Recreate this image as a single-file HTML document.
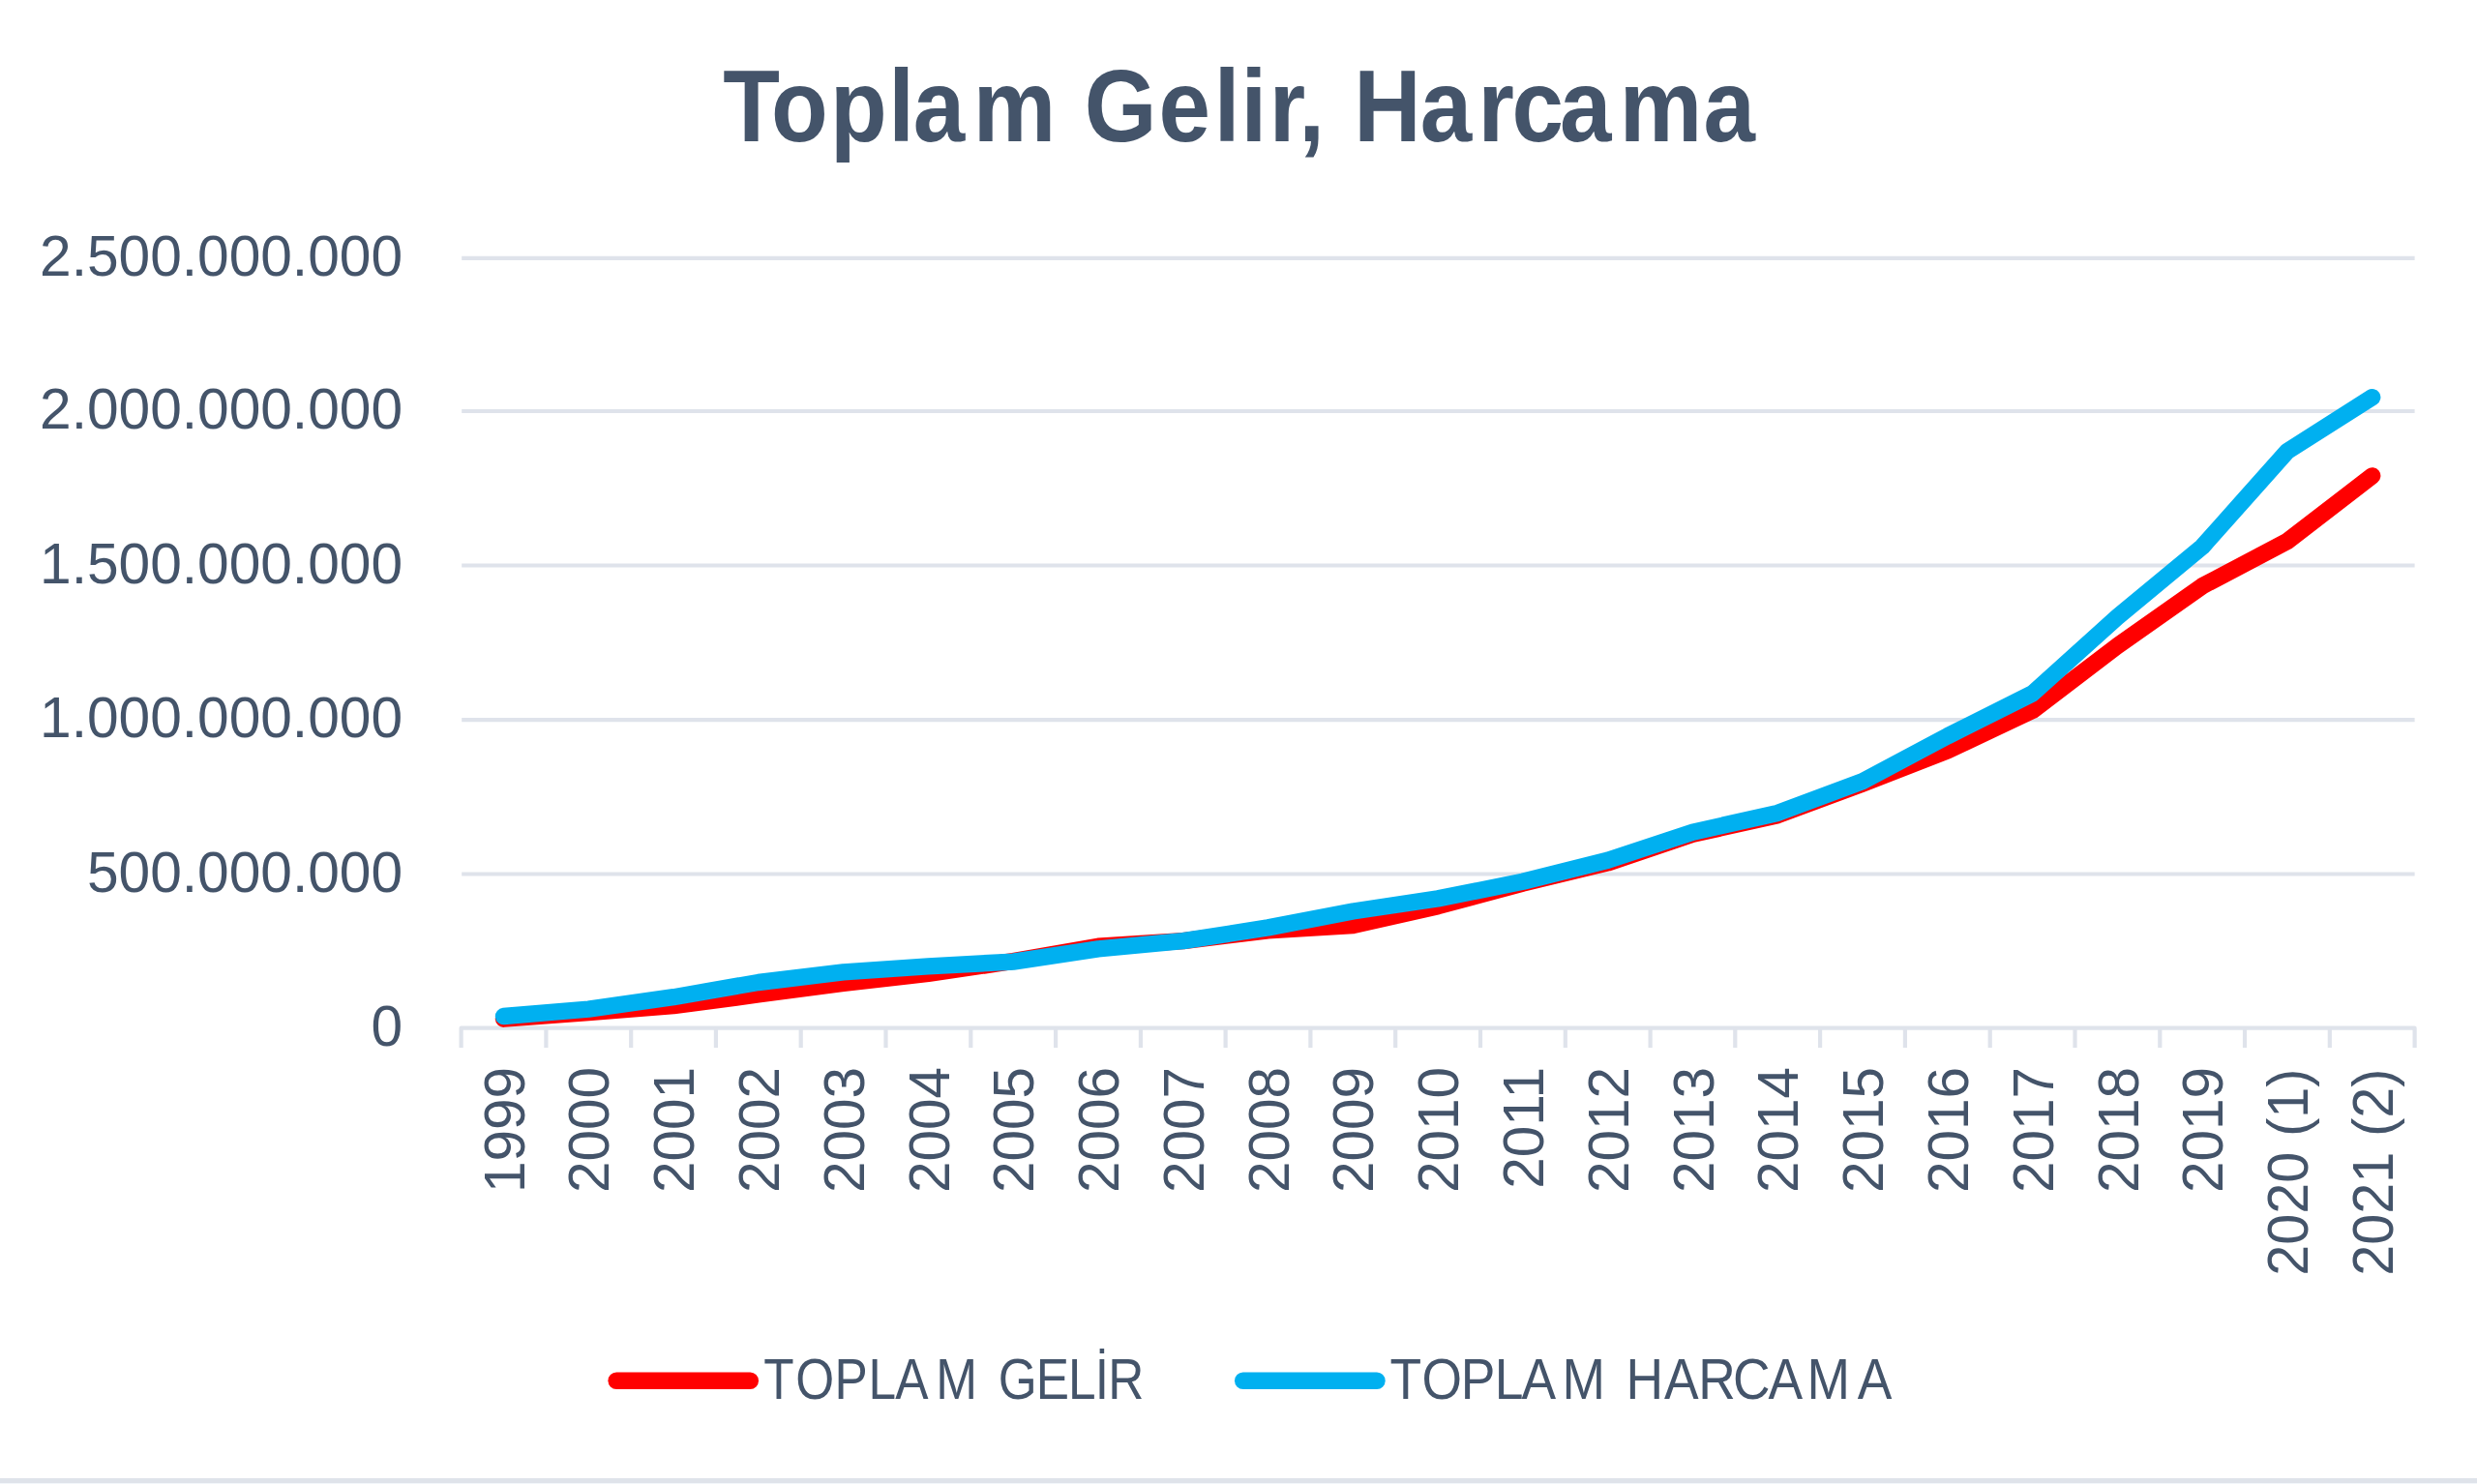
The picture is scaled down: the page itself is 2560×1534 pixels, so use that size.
<!DOCTYPE html>
<html lang="tr"><head><meta charset="utf-8"><title>Toplam Gelir, Harcama</title>
<style>
html,body{margin:0;padding:0;background:#fff;}
body{width:2560px;height:1534px;overflow:hidden;font-family:"Liberation Sans",sans-serif;}
svg{display:block;}
text{font-family:"Liberation Sans",sans-serif;fill:#44546A;}
</style></head><body>
<svg width="2560" height="1534" viewBox="0 0 2560 1534">
<rect x="0" y="0" width="2560" height="1534" fill="#ffffff"/>
<rect x="0" y="1528" width="2560" height="5" fill="#DFE3EA"/>
<rect x="0" y="1533" width="2560" height="1" fill="#F2F6FA"/>
<g stroke="#DFE3EB" stroke-width="4.2" fill="none" stroke-linejoin="round">
<line x1="477.2" y1="266.9" x2="2495.6" y2="266.9"/>
<line x1="477.2" y1="425.0" x2="2495.6" y2="425.0"/>
<line x1="477.2" y1="584.5" x2="2495.6" y2="584.5"/>
<line x1="477.2" y1="744.2" x2="2495.6" y2="744.2"/>
<line x1="477.2" y1="903.5" x2="2495.6" y2="903.5"/>
<path d="M476.6,1083.0 L476.6,1062.7 L2495.6,1062.7 L2495.6,1083.0"/>
<line x1="564.4" y1="1062.7" x2="564.4" y2="1083.0"/>
<line x1="652.2" y1="1062.7" x2="652.2" y2="1083.0"/>
<line x1="739.9" y1="1062.7" x2="739.9" y2="1083.0"/>
<line x1="827.7" y1="1062.7" x2="827.7" y2="1083.0"/>
<line x1="915.5" y1="1062.7" x2="915.5" y2="1083.0"/>
<line x1="1003.3" y1="1062.7" x2="1003.3" y2="1083.0"/>
<line x1="1091.1" y1="1062.7" x2="1091.1" y2="1083.0"/>
<line x1="1178.9" y1="1062.7" x2="1178.9" y2="1083.0"/>
<line x1="1266.6" y1="1062.7" x2="1266.6" y2="1083.0"/>
<line x1="1354.4" y1="1062.7" x2="1354.4" y2="1083.0"/>
<line x1="1442.2" y1="1062.7" x2="1442.2" y2="1083.0"/>
<line x1="1530.0" y1="1062.7" x2="1530.0" y2="1083.0"/>
<line x1="1617.8" y1="1062.7" x2="1617.8" y2="1083.0"/>
<line x1="1705.6" y1="1062.7" x2="1705.6" y2="1083.0"/>
<line x1="1793.3" y1="1062.7" x2="1793.3" y2="1083.0"/>
<line x1="1881.1" y1="1062.7" x2="1881.1" y2="1083.0"/>
<line x1="1968.9" y1="1062.7" x2="1968.9" y2="1083.0"/>
<line x1="2056.7" y1="1062.7" x2="2056.7" y2="1083.0"/>
<line x1="2144.5" y1="1062.7" x2="2144.5" y2="1083.0"/>
<line x1="2232.3" y1="1062.7" x2="2232.3" y2="1083.0"/>
<line x1="2320.0" y1="1062.7" x2="2320.0" y2="1083.0"/>
<line x1="2407.8" y1="1062.7" x2="2407.8" y2="1083.0"/>
</g>
<text transform="translate(0,146.3) scale(0.9114,1)" x="819.8 874.4 941.5 1007.5 1035.6 1103.6 1194.1 1229.6 1313.8 1376.8 1407.3 1439.4 1472.6 1499.7 1535.4 1610.4 1675.9 1714.4 1768.7 1836.5 1931.6" y="0" font-size="105.5" font-weight="700">Toplam Gelir, Harcama</text>
<text transform="translate(416.0,284.9) scale(0.9856,1)" text-anchor="end" font-size="59.5">2.500.000.000</text>
<text transform="translate(416.0,443.0) scale(0.9856,1)" text-anchor="end" font-size="59.5">2.000.000.000</text>
<text transform="translate(416.0,602.5) scale(0.9856,1)" text-anchor="end" font-size="59.5">1.500.000.000</text>
<text transform="translate(416.0,762.2) scale(0.9856,1)" text-anchor="end" font-size="59.5">1.000.000.000</text>
<text transform="translate(416.0,921.5) scale(0.9856,1)" text-anchor="end" font-size="59.5">500.000.000</text>
<text transform="translate(416.0,1080.7) scale(0.9856,1)" text-anchor="end" font-size="59.5">0</text>
<text transform="translate(541.6,1103.0) rotate(-90) scale(0.983,1)" text-anchor="end" font-size="59.5">1999</text>
<text transform="translate(629.4,1103.0) rotate(-90) scale(0.983,1)" text-anchor="end" font-size="59.5">2000</text>
<text transform="translate(717.2,1103.0) rotate(-90) scale(0.983,1)" text-anchor="end" font-size="59.5">2001</text>
<text transform="translate(804.9,1103.0) rotate(-90) scale(0.983,1)" text-anchor="end" font-size="59.5">2002</text>
<text transform="translate(892.7,1103.0) rotate(-90) scale(0.983,1)" text-anchor="end" font-size="59.5">2003</text>
<text transform="translate(980.5,1103.0) rotate(-90) scale(0.983,1)" text-anchor="end" font-size="59.5">2004</text>
<text transform="translate(1068.3,1103.0) rotate(-90) scale(0.983,1)" text-anchor="end" font-size="59.5">2005</text>
<text transform="translate(1156.1,1103.0) rotate(-90) scale(0.983,1)" text-anchor="end" font-size="59.5">2006</text>
<text transform="translate(1243.9,1103.0) rotate(-90) scale(0.983,1)" text-anchor="end" font-size="59.5">2007</text>
<text transform="translate(1331.6,1103.0) rotate(-90) scale(0.983,1)" text-anchor="end" font-size="59.5">2008</text>
<text transform="translate(1419.4,1103.0) rotate(-90) scale(0.983,1)" text-anchor="end" font-size="59.5">2009</text>
<text transform="translate(1507.2,1103.0) rotate(-90) scale(0.983,1)" text-anchor="end" font-size="59.5">2010</text>
<text transform="translate(1595.0,1103.0) rotate(-90) scale(0.983,1)" text-anchor="end" font-size="59.5">2011</text>
<text transform="translate(1682.8,1103.0) rotate(-90) scale(0.983,1)" text-anchor="end" font-size="59.5">2012</text>
<text transform="translate(1770.5,1103.0) rotate(-90) scale(0.983,1)" text-anchor="end" font-size="59.5">2013</text>
<text transform="translate(1858.3,1103.0) rotate(-90) scale(0.983,1)" text-anchor="end" font-size="59.5">2014</text>
<text transform="translate(1946.1,1103.0) rotate(-90) scale(0.983,1)" text-anchor="end" font-size="59.5">2015</text>
<text transform="translate(2033.9,1103.0) rotate(-90) scale(0.983,1)" text-anchor="end" font-size="59.5">2016</text>
<text transform="translate(2121.7,1103.0) rotate(-90) scale(0.983,1)" text-anchor="end" font-size="59.5">2017</text>
<text transform="translate(2209.5,1103.0) rotate(-90) scale(0.983,1)" text-anchor="end" font-size="59.5">2018</text>
<text transform="translate(2297.2,1103.0) rotate(-90) scale(0.983,1)" text-anchor="end" font-size="59.5">2019</text>
<text transform="translate(2385.0,1104.6) rotate(-90) scale(0.966,1)" text-anchor="end" font-size="59.5">2020 (1)</text>
<text transform="translate(2472.8,1104.6) rotate(-90) scale(0.966,1)" text-anchor="end" font-size="59.5">2021 (2)</text>
<polyline points="520.5,1053.2 608.3,1046.5 696.1,1039.6 783.8,1028.0 871.6,1016.4 959.4,1006.4 1047.2,993.5 1135.0,978.2 1222.8,972.6 1310.5,961.8 1398.3,956.6 1486.1,936.7 1573.9,913.0 1661.7,891.9 1749.4,862.3 1837.2,842.7 1925.0,810.0 2012.8,775.8 2100.6,734.5 2188.4,667.7 2276.1,605.8 2363.9,559.5 2451.7,491.9" fill="none" stroke="#FF0000" stroke-width="17.4" stroke-linecap="round" stroke-linejoin="round"/>
<polyline points="520.5,1050.5 608.3,1043.1 696.1,1030.7 783.8,1015.5 871.6,1004.9 959.4,998.9 1047.2,994.1 1135.0,980.9 1222.8,972.7 1310.5,958.9 1398.3,942.0 1486.1,928.9 1573.9,911.2 1661.7,889.2 1749.4,860.2 1837.2,840.4 1925.0,807.6 2012.8,760.9 2100.6,716.9 2188.4,637.8 2276.1,565.1 2363.9,466.5 2451.7,410.7" fill="none" stroke="#00B0F0" stroke-width="17.4" stroke-linecap="round" stroke-linejoin="round"/>
<line x1="637.1" y1="1427.25" x2="775.3" y2="1427.25" stroke="#FF0000" stroke-width="17.4" stroke-linecap="round"/>
<text transform="translate(0,1446.0) scale(0.8659,1)" x="911.4 949.5 996.2 1036.4 1068.6 1117.2 1167.4 1191.5 1236.5 1275.1 1306.9 1322.7" y="0" font-size="59.3">TOPLAM GELİR</text>
<line x1="1284.7" y1="1427.25" x2="1423.0" y2="1427.25" stroke="#00B0F0" stroke-width="17.4" stroke-linecap="round"/>
<text transform="translate(0,1446.0) scale(0.9007,1)" x="1594.9 1631.4 1676.3 1715.1 1746.0 1792.6 1841.7 1865.7 1909.5 1948.9 1988.4 2029.0 2073.5 2131.5" y="0" font-size="59.3">TOPLAM HARCAMA</text>
</svg>
</body></html>
